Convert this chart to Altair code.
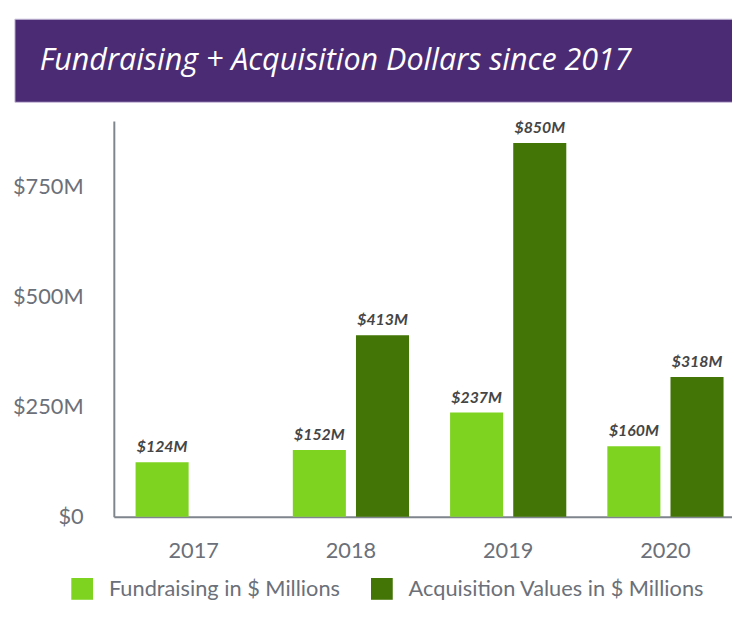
import altair as alt
import pandas as pd

title_text = "Fundraising + Acquisition Dollars since 2017"
years = ["2017", "2018", "2019", "2020"]
series_names = ["Fundraising in $ Millions", "Acquisition Values in $ Millions"]
fundraising = [124, 152, 237, 160]
acquisition = [None, 413, 850, 318]
y_ticks = [0, 250, 500, 750]
y_tick_labels = ["$0", "$250M", "$500M", "$750M"]
colors = ["#7ED321", "#427505"]

rows = []
for i, yr in enumerate(years):
    for name, vals in zip(series_names, [fundraising, acquisition]):
        v = vals[i]
        if v is not None:
            rows.append({"year": yr, "series": name, "value": v, "label": f"${v}M"})
df = pd.DataFrame(rows)

label_expr = " : ".join(
    f"datum.value == {v} ? '{l}'" for v, l in zip(y_ticks, y_tick_labels)
) + " : ''"

FONT = "Lato"
LBL = "#6b7079"

x_enc = alt.X("year:N", sort=years,
              scale=alt.Scale(paddingInner=0.261, paddingOuter=0.096, align=0.72),
              axis=alt.Axis(title=None, labelAngle=0, ticks=False, labelFontSize=22,
                            labelColor=LBL, labelFont=FONT, labelPadding=24,
                            domainColor="#7f858c", domainWidth=2))
xoff = alt.XOffset("series:N", sort=series_names,
                   scale=alt.Scale(domain=series_names, paddingInner=0.16, paddingOuter=0))
y_enc = alt.Y("value:Q", scale=alt.Scale(domain=[0, 900], nice=False),
              axis=alt.Axis(title=None, values=y_ticks, labelExpr=label_expr, grid=False,
                            ticks=False, labelFontSize=22, labelColor=LBL,
                            labelFont=FONT, labelPadding=31,
                            domainColor="#7f858c", domainWidth=2))

bars = alt.Chart(df).mark_bar().encode(
    x=x_enc,
    xOffset=xoff,
    y=y_enc,
    color=alt.Color("series:N", sort=series_names,
                    scale=alt.Scale(domain=series_names, range=colors),
                    legend=alt.Legend(title=None, orient="none", legendX=-43, legendY=462,
                                      direction="horizontal", symbolType="square",
                                      symbolSize=484, symbolStrokeWidth=0,
                                      labelFontSize=22, labelFont=FONT,
                                      labelColor=LBL, labelOffset=16,
                                      columnPadding=31, labelLimit=400)),
)

labels = alt.Chart(df).mark_text(
    font=FONT, fontSize=16, fontWeight="bold", fontStyle="italic",
    color="#454545", dy=-10, baseline="alphabetic"
).encode(
    x=alt.X("year:N", sort=years),
    xOffset=alt.XOffset("series:N", sort=series_names),
    y="value:Q",
    text="label:N",
)

tdf = pd.DataFrame({"t": [title_text]})
banner = alt.Chart(tdf).mark_rect(color="#4b2c74", stroke="#c9bddc", strokeWidth=1).encode(
    x=alt.value(-100), x2=alt.value(640), y=alt.value(-103), y2=alt.value(-19)
)
title = alt.Chart(tdf).mark_text(
    font="Open Sans", fontSize=30.8, fontStyle="italic", color="white",
    align="left", baseline="alphabetic"
).encode(x=alt.value(-75), y=alt.value(-52), text="t:N")

chart = alt.layer(banner, bars, labels, title).properties(
    width=625, height=400,
    autosize=alt.AutoSizeParams(type="none"),
    padding={"left": 107, "top": 111, "right": 0, "bottom": 89},
    background="white",
).configure_view(stroke=None)

chart.save("out.html", embed_options={"renderer": "svg", "actions": False})
